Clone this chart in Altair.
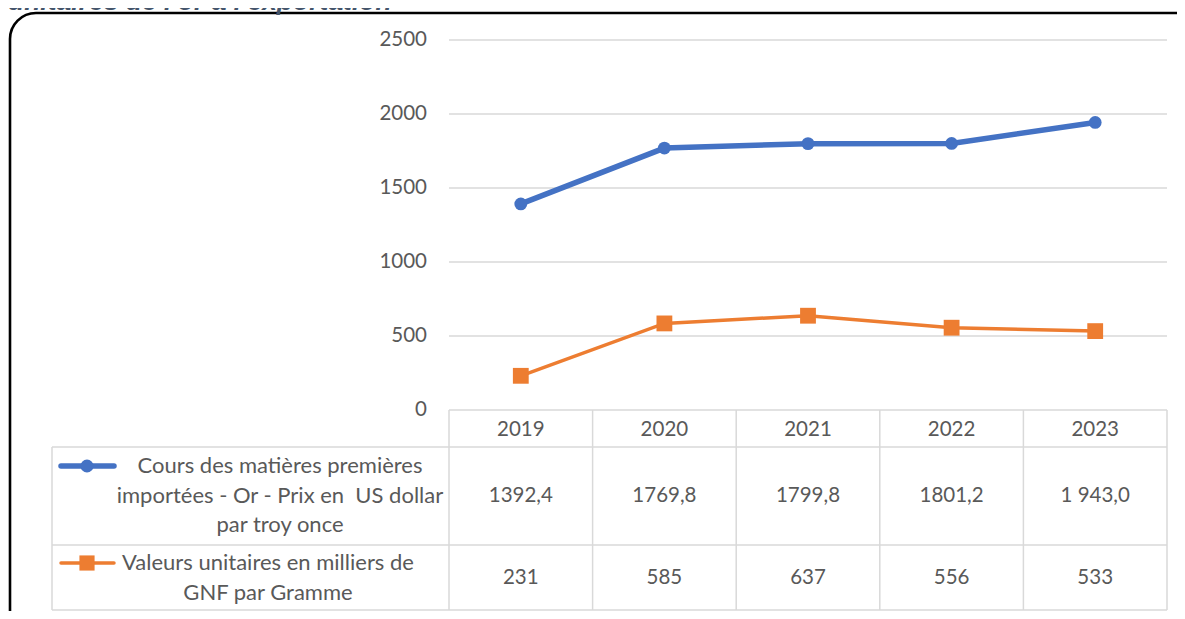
import altair as alt
import pandas as pd

# ---------------- data ----------------
years = ["2019", "2020", "2021", "2022", "2023"]
gold_usd = [1392.4, 1769.8, 1799.8, 1801.2, 1943.0]
gold_usd_labels = ["1392,4", "1769,8", "1799,8", "1801,2", "1 943,0"]
unit_gnf = [231, 585, 637, 556, 533]
unit_gnf_labels = ["231", "585", "637", "556", "533"]
series_names = [
    "Cours des matières premières\nimportées - Or - Prix en \u00a0US dollar\npar troy once",
    "Valeurs unitaires en milliers de\nGNF par Gramme",
]
y_ticks = [0, 500, 1000, 1500, 2000, 2500]
title_text = "unitaires de l'or à l'exportation"

# ---------------- style ----------------
BLUE = "#4472C4"
ORANGE = "#ED7D31"
GRID = "#D9D9D9"
TXT = "#595959"
FONT = "Lato"
FS_NUM = 20.5
FS_LAB = 22

W, H = 1169, 603
X0, X1 = 441, 1159   # plot area (chart coords)
Y0, Y1 = 402, 32

xs = alt.Scale(type="band", domain=years, range=[X0, X1], paddingInner=0, paddingOuter=0)
ys = alt.Scale(domain=[0, 2500], range=[Y0, Y1], nice=False, zero=True)

one = alt.Data(values=[{"k": 1}])

df_blue = pd.DataFrame({"year": years, "value": gold_usd, "label": gold_usd_labels})
df_orange = pd.DataFrame({"year": years, "value": unit_gnf, "label": unit_gnf_labels})
df_ticks = pd.DataFrame({"v": y_ticks})
df_years = pd.DataFrame({"year": years})


def X(band=0.5):
    return alt.X("year:O", scale=xs, axis=None, bandPosition=band)


layers = []

# rounded frame
layers.append(
    alt.Chart(one).mark_rect(cornerRadius=26, fillOpacity=0, fill="white",
                             stroke="black", strokeWidth=2.6).encode(
        x=alt.value(2), x2=alt.value(1400), y=alt.value(5), y2=alt.value(800))
)

# title (cut at the top edge, as in the reference)
layers.append(
    alt.Chart(one).mark_text(align="left", baseline="alphabetic", font="Liberation Sans",
                             fontSize=26.5, fontStyle="italic", fontWeight="bold",
                             color="#44546A").encode(
        x=alt.value(0), y=alt.value(2), text=alt.value(title_text))
)

# gridlines
layers.append(
    alt.Chart(df_ticks).mark_rule(color=GRID, strokeWidth=1.3).encode(
        y=alt.Y("v:Q", scale=ys, axis=None), x=alt.value(X0), x2=alt.value(X1))
)
# y tick labels
layers.append(
    alt.Chart(df_ticks).mark_text(align="right", baseline="middle", font=FONT,
                                  fontSize=FS_NUM, color=TXT).encode(
        y=alt.Y("v:Q", scale=ys, axis=None), x=alt.value(419), text="v:Q")
)

# table horizontal lines
for yy in [439, 537, 602]:
    layers.append(
        alt.Chart(one).mark_rule(color=GRID, strokeWidth=1.5).encode(
            x=alt.value(44), x2=alt.value(X1), y=alt.value(yy))
    )
# table vertical lines
layers.append(
    alt.Chart(df_years).mark_rule(color=GRID, strokeWidth=1.5).encode(
        x=X(0), y=alt.value(Y0), y2=alt.value(602))
)
layers.append(
    alt.Chart(df_years.tail(1)).mark_rule(color=GRID, strokeWidth=1.5).encode(
        x=X(1), y=alt.value(Y0), y2=alt.value(602))
)
layers.append(
    alt.Chart(one).mark_rule(color=GRID, strokeWidth=1.5).encode(
        x=alt.value(44), y=alt.value(439), y2=alt.value(602))
)

# lines + markers
layers.append(
    alt.Chart(df_blue).mark_line(color=BLUE, strokeWidth=5.5).encode(
        x=X(), y=alt.Y("value:Q", scale=ys, axis=None))
)
layers.append(
    alt.Chart(df_blue).mark_point(shape="circle", filled=True, opacity=1, size=165,
                                  color=BLUE).encode(
        x=X(), y=alt.Y("value:Q", scale=ys, axis=None))
)
layers.append(
    alt.Chart(df_orange).mark_line(color=ORANGE, strokeWidth=3.5).encode(
        x=X(), y=alt.Y("value:Q", scale=ys, axis=None))
)
layers.append(
    alt.Chart(df_orange).mark_point(shape="square", filled=True, opacity=1, size=250,
                                    color=ORANGE).encode(
        x=X(), y=alt.Y("value:Q", scale=ys, axis=None))
)

# table header (years)
layers.append(
    alt.Chart(df_years).mark_text(baseline="middle", font=FONT, fontSize=FS_NUM, color=TXT).encode(
        x=X(), y=alt.value(422), text="year:N")
)
# table values
layers.append(
    alt.Chart(df_blue).mark_text(baseline="middle", font=FONT, fontSize=FS_NUM, color=TXT).encode(
        x=X(), y=alt.value(488), text="label:N")
)
layers.append(
    alt.Chart(df_orange).mark_text(baseline="middle", font=FONT, fontSize=FS_NUM, color=TXT).encode(
        x=X(), y=alt.value(570), text="label:N")
)

# row labels (first line position; following lines go below)
layers.append(
    alt.Chart(pd.DataFrame({"label": [series_names[0]]})).mark_text(
        align="center", baseline="middle", lineBreak="\n", lineHeight=29.5,
        font=FONT, fontSize=FS_LAB, color=TXT).encode(
        x=alt.value(272), y=alt.value(458), text="label:N")
)
layers.append(
    alt.Chart(pd.DataFrame({"label": [series_names[1]]})).mark_text(
        align="center", baseline="middle", lineBreak="\n", lineHeight=29.5,
        font=FONT, fontSize=FS_LAB, color=TXT).encode(
        x=alt.value(260), y=alt.value(555), text="label:N")
)

# legend keys
layers.append(
    alt.Chart(one).mark_rule(color=BLUE, strokeWidth=5.5, strokeCap="round").encode(
        x=alt.value(53), x2=alt.value(106), y=alt.value(458))
)
layers.append(
    alt.Chart(one).mark_point(shape="circle", filled=True, opacity=1, size=170, color=BLUE).encode(
        x=alt.value(79), y=alt.value(458))
)
layers.append(
    alt.Chart(one).mark_rule(color=ORANGE, strokeWidth=3.5, strokeCap="round").encode(
        x=alt.value(53), x2=alt.value(106), y=alt.value(555))
)
layers.append(
    alt.Chart(one).mark_point(shape="square", filled=True, opacity=1, size=230, color=ORANGE).encode(
        x=alt.value(79), y=alt.value(555))
)

chart = alt.layer(*layers).properties(
    width=W, height=H, autosize="none", padding=0
).configure_view(stroke=None)

chart.save("out.html", embed_options={"renderer": "svg", "actions": False})
